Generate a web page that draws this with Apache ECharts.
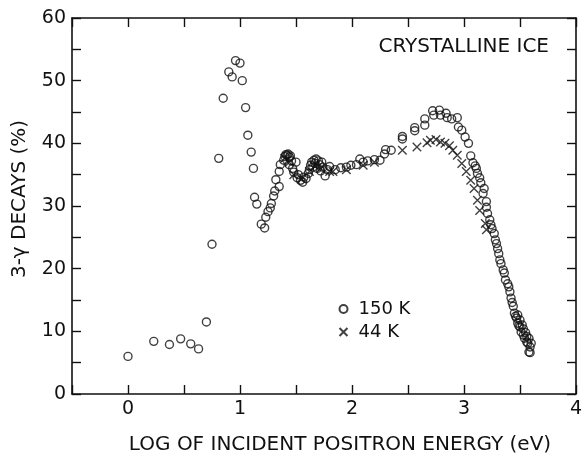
<!DOCTYPE html>
<html>
<head>
<meta charset="utf-8">
<script src="https://cdn.jsdelivr.net/npm/echarts@6/dist/echarts.min.js"></script>
<style>
  html, body { margin: 0; padding: 0; background: #fff; }
  #chart { width: 584px; height: 454px; }
</style>
</head>
<body>
<div id="chart"></div>
<script>
// log10(E) vs 3-gamma fraction
const ice150K = [
  [0.00, 6.0], [0.23, 8.4], [0.37, 7.9], [0.47, 8.8], [0.56, 8.0], [0.63, 7.2],
  [0.70, 11.5], [0.75, 23.9], [0.81, 37.6], [0.85, 47.2], [0.90, 51.4], [0.93, 50.6],
  [0.96, 53.2], [1.00, 52.8], [1.02, 50.0], [1.05, 45.7], [1.07, 41.3], [1.10, 38.6],
  [1.12, 36.0], [1.13, 31.4], [1.15, 30.3], [1.19, 27.1], [1.22, 26.5], [1.23, 28.2],
  [1.25, 29.1], [1.27, 29.7], [1.28, 30.4], [1.30, 31.6], [1.31, 32.4], [1.32, 34.2],
  [1.35, 33.1], [1.35, 35.5], [1.36, 36.6], [1.39, 37.3], [1.40, 37.9], [1.41, 38.2],
  [1.42, 38.1], [1.43, 38.3], [1.44, 37.8], [1.45, 38.0], [1.44, 36.6], [1.46, 37.2],
  [1.47, 36.0], [1.48, 35.4], [1.50, 37.0], [1.51, 34.5], [1.52, 35.0], [1.54, 34.1],
  [1.56, 33.8], [1.57, 34.6], [1.59, 34.4], [1.61, 35.2], [1.62, 35.8], [1.63, 36.5],
  [1.64, 37.0], [1.65, 36.2], [1.66, 37.3], [1.67, 36.8], [1.68, 37.5], [1.69, 36.0],
  [1.70, 37.2], [1.71, 36.6], [1.72, 35.6], [1.73, 37.0], [1.74, 36.2], [1.76, 34.8],
  [1.78, 35.8], [1.80, 36.3], [1.85, 35.8], [1.90, 36.1], [1.95, 36.2], [1.99, 36.5],
  [2.04, 36.6], [2.07, 37.5], [2.10, 37.0], [2.14, 37.2], [2.20, 37.4], [2.25, 37.3],
  [2.29, 38.3], [2.30, 39.0], [2.35, 38.9], [2.45, 40.7], [2.45, 41.1], [2.56, 42.0],
  [2.56, 42.5], [2.65, 42.9], [2.65, 43.9], [2.72, 45.2], [2.73, 44.5], [2.78, 45.3],
  [2.79, 44.5], [2.84, 44.8], [2.85, 44.1], [2.89, 43.9], [2.94, 44.1], [2.95, 42.6],
  [2.98, 42.1], [3.01, 41.0], [3.04, 40.0], [3.06, 38.0], [3.08, 36.9], [3.10, 36.4],
  [3.11, 36.0], [3.12, 35.2], [3.14, 34.5], [3.15, 33.7], [3.17, 32.0], [3.18, 32.8],
  [3.20, 30.7], [3.20, 29.8], [3.21, 28.8], [3.23, 27.8], [3.24, 27.0], [3.25, 26.4],
  [3.27, 25.6], [3.28, 24.6], [3.29, 24.0], [3.30, 23.2], [3.31, 22.4], [3.32, 21.4],
  [3.33, 20.8], [3.35, 19.8], [3.36, 19.3], [3.37, 18.2], [3.39, 17.6], [3.40, 17.1],
  [3.41, 16.3], [3.42, 15.3], [3.43, 14.6], [3.44, 14.0], [3.45, 12.9], [3.46, 12.4],
  [3.47, 12.1], [3.48, 11.3], [3.48, 12.6], [3.49, 10.9], [3.50, 10.7], [3.50, 11.8],
  [3.51, 9.9], [3.52, 11.0], [3.53, 9.4], [3.53, 10.4], [3.54, 8.9], [3.55, 9.8],
  [3.56, 8.3], [3.56, 9.2], [3.57, 8.1], [3.58, 6.7], [3.58, 8.9], [3.59, 7.5],
  [3.60, 8.1], [3.59, 6.6]
]
const ice44K = [
  [1.40, 37.6], [1.44, 37.0], [1.48, 35.0], [1.55, 34.3], [1.62, 35.5], [1.67, 36.3],
  [1.72, 36.0], [1.80, 35.5], [1.83, 35.5], [1.95, 35.8], [2.10, 36.5], [2.20, 37.0],
  [2.45, 38.9], [2.58, 39.4], [2.67, 40.1], [2.70, 40.5], [2.75, 40.6], [2.79, 40.2],
  [2.83, 40.0], [2.87, 39.6], [2.90, 38.9], [2.94, 38.1], [2.98, 36.8], [3.02, 35.5],
  [3.06, 34.1], [3.09, 32.8], [3.12, 30.9], [3.14, 29.3], [3.19, 27.2], [3.20, 26.2]
]
const xRange = [-0.5, 4]
const yRange = [0, 60]

const font = 'DejaVu Sans'
const ink = '#111'

const chart = echarts.init(document.getElementById('chart'))

function tickAxis(pos, range, step, showLabel, fmt) {
  return {
    type: 'value',
    position: pos,
    min: range[0],
    max: range[1],
    interval: step,
    splitLine: { show: false },
    axisLine: { show: true, onZero: false, lineStyle: { color: ink, width: 1.6 } },
    axisTick: { show: true, inside: true, length: 9, lineStyle: { color: ink, width: 1.4 } },
    axisLabel: {
      show: showLabel,
      formatter: fmt,
      margin: 6,
      color: ink,
      fontFamily: font,
      fontSize: 19
    }
  }
}

const crossPath = 'path://M0,0L10,10M10,0L0,10'

chart.setOption({
  animation: false,
  backgroundColor: '#fff',
  grid: { left: 72, right: 8, top: 18, bottom: 60, containLabel: false, outerBoundsMode: 'none' },
  title: {
    text: 'CRYSTALLINE ICE',
    right: 35,
    top: 37,
    padding: 0,
    textStyle: { fontFamily: font, fontSize: 20, fontWeight: 'normal', color: ink }
  },
  legend: {
    orient: 'vertical',
    left: 337,
    top: 300,
    padding: 0,
    itemGap: 5,
    itemWidth: 8,
    itemHeight: 8,
    textStyle: { fontFamily: font, fontSize: 18, color: ink, padding: [0, 0, 0, 6] },
    data: ['150 K', '44 K']
  },
  xAxis: [
    Object.assign(tickAxis('bottom', xRange, 0.5, true, v => Number.isInteger(v) ? String(v) : ''), {
      name: 'LOG OF INCIDENT POSITRON ENERGY (eV)',
      nameLocation: 'middle',
      nameGap: 41,
      nameTextStyle: { fontFamily: font, fontSize: 20, color: ink, padding: [0, 0, 0, 32] }
    }),
    tickAxis('top', xRange, 0.5, false)
  ],
  yAxis: [
    Object.assign(tickAxis('left', yRange, 5, true, v => v % 10 === 0 ? String(v) : ''), {
      name: '3-γ DECAYS (%)',
      nameLocation: 'middle',
      nameGap: 42,
      nameTextStyle: { fontFamily: font, fontSize: 20, color: ink, padding: [0, 0, 0, 14] }
    }),
    tickAxis('right', yRange, 5, false)
  ],
  series: [
    {
      name: '150 K',
      type: 'scatter',
      xAxisIndex: 0,
      yAxisIndex: 0,
      symbol: 'circle',
      symbolSize: 8,
      itemStyle: { color: 'rgba(0,0,0,0)', borderColor: ink, borderWidth: 1.4 },
      data: ice150K
    },
    {
      name: '44 K',
      type: 'scatter',
      xAxisIndex: 0,
      yAxisIndex: 0,
      symbol: crossPath,
      symbolSize: 8.5,
      itemStyle: { color: 'none', borderColor: ink, borderWidth: 1.4 },
      data: ice44K
    }
  ]
})
</script>
</body>
</html>
